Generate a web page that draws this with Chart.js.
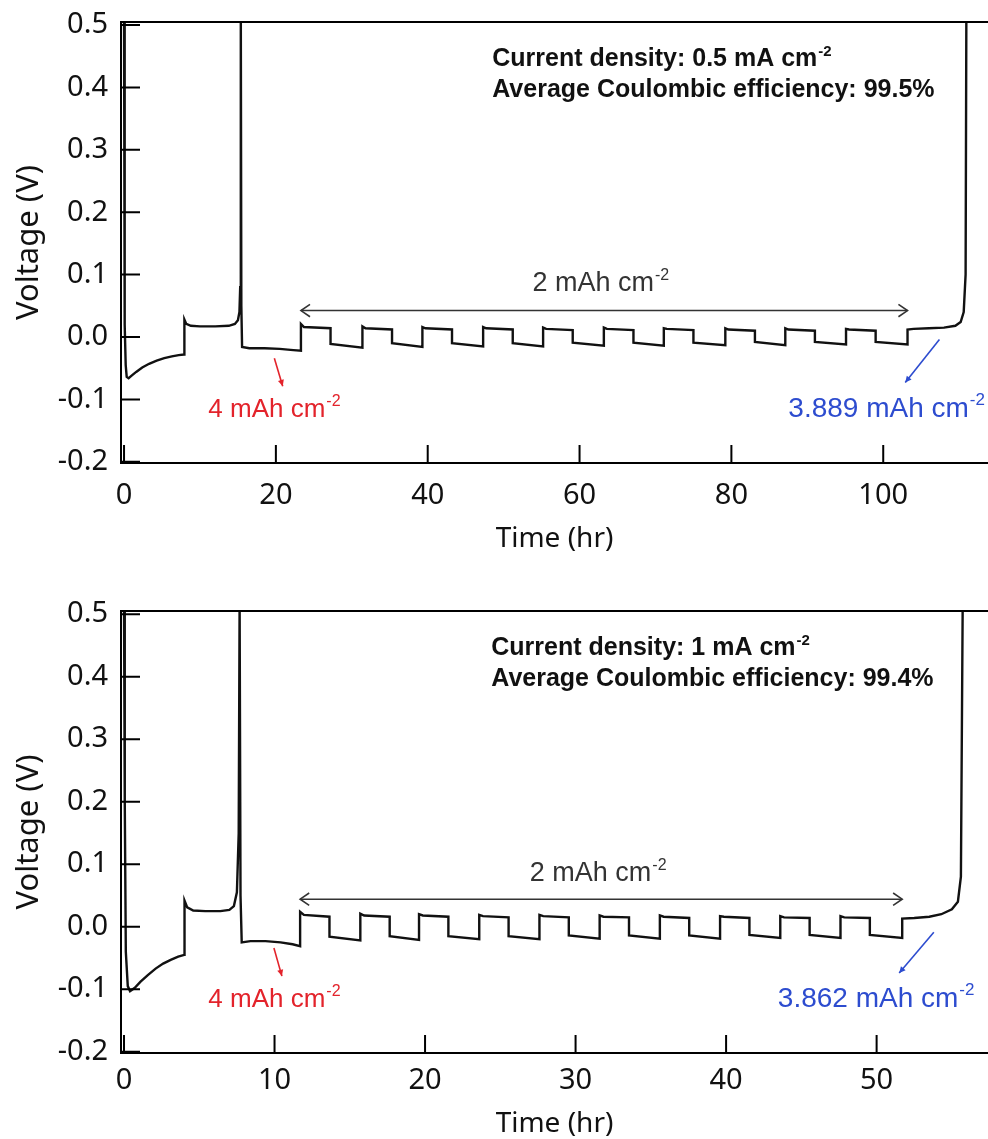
<!DOCTYPE html>
<html>
<head>
<meta charset="utf-8">
<script src="https://cdn.jsdelivr.net/npm/chart.js@4.4.1/dist/chart.umd.min.js"></script>
<style>
  html, body { margin: 0; padding: 0; background: #fff; }
  canvas { display: block; }
</style>
</head>
<body>
<canvas id="chartTop" width="988" height="569"></canvas>
<canvas id="chartBottom" width="988" height="570"></canvas>
<script>
// Voltage ticks shared by both panels
const voltageTicks = [-0.2, -0.1, 0.0, 0.1, 0.2, 0.3, 0.4, 0.5];
const topTimeTicks = [0, 20, 40, 60, 80, 100];
const bottomTimeTicks = [0, 10, 20, 30, 40, 50];

// 0.5 mA cm-2 run
const topTime = [
  0, 0.05, 0.12, 0.22, 0.35, 0.6, 1.0, 1.6, 2.4, 3.3, 4.3, 5.3, 6.3, 7.2, 7.9,
  7.95, 8.2, 8.8, 10, 12, 13.8, 14.6, 15.0, 15.2, 15.3, 15.38, 15.45, 15.55,
  16.5, 18.5, 20.5, 22.3, 23.3,
  23.3, 23.7, 27.2, 27.2, 31.4,
  31.4, 31.8, 35.3, 35.3, 39.3,
  39.3, 39.7, 43.2, 43.2, 47.3,
  47.3, 47.7, 51.2, 51.2, 55.2,
  55.2, 55.6, 59.1, 59.1, 63.2,
  63.2, 63.6, 67.1, 67.1, 71.1,
  71.1, 71.5, 75.0, 75.0, 79.2,
  79.2, 79.6, 83.1, 83.1, 87.1,
  87.1, 87.5, 91.0, 91.0, 95.1,
  95.1, 95.5, 99.0, 99.0, 103.2,
  103.2, 104, 106, 108, 109.5, 110.2, 110.6, 110.85, 110.95
];
const topVoltage = [
  0.52, 0.25, 0.02, -0.045, -0.064, -0.066, -0.062, -0.056, -0.049, -0.043, -0.038, -0.034, -0.031, -0.029, -0.028,
  0.028, 0.021, 0.018, 0.017, 0.017, 0.018, 0.021, 0.027, 0.04, 0.08, 0.52, 0.05, -0.016,
  -0.018, -0.018, -0.019, -0.021, -0.022,
  0.021, 0.016, 0.014, -0.011, -0.017,
  0.017, 0.014, 0.012, -0.010, -0.016,
  0.016, 0.014, 0.012, -0.010, -0.015,
  0.016, 0.014, 0.012, -0.010, -0.015,
  0.015, 0.013, 0.011, -0.009, -0.014,
  0.015, 0.013, 0.011, -0.009, -0.014,
  0.014, 0.013, 0.011, -0.009, -0.013,
  0.014, 0.012, 0.010, -0.008, -0.013,
  0.014, 0.012, 0.010, -0.008, -0.012,
  0.013, 0.012, 0.010, -0.008, -0.012,
  0.012, 0.013, 0.014, 0.015, 0.018, 0.024, 0.04, 0.10, 0.52
];

// 1 mA cm-2 run
const bottomTime = [
  0, 0.05, 0.12, 0.25, 0.4, 0.7, 1.1, 1.6, 2.1, 2.6, 3.1, 3.6, 4.0,
  4.02, 4.2, 4.6, 5.4, 6.4, 7.0, 7.3, 7.5, 7.62, 7.68, 7.74, 7.82,
  8.4, 9.4, 10.4, 11.2, 11.7,
  11.7, 11.95, 13.65, 13.65, 15.7,
  15.7, 15.95, 17.65, 17.65, 19.6,
  19.6, 19.85, 21.55, 21.55, 23.6,
  23.6, 23.85, 25.55, 25.55, 27.6,
  27.6, 27.85, 29.55, 29.55, 31.6,
  31.6, 31.85, 33.55, 33.55, 35.6,
  35.6, 35.85, 37.55, 37.55, 39.6,
  39.6, 39.85, 41.55, 41.55, 43.6,
  43.6, 43.85, 45.55, 45.55, 47.6,
  47.6, 47.85, 49.55, 49.55, 51.7,
  51.7, 52.5, 53.5, 54.3, 55.0, 55.4, 55.6, 55.72
];
const bottomVoltage = [
  0.52, 0.2, -0.04, -0.095, -0.103, -0.098, -0.088, -0.077, -0.067, -0.059, -0.053, -0.048, -0.045,
  0.042, 0.031, 0.026, 0.025, 0.025, 0.027, 0.033, 0.055, 0.15, 0.52, 0.05, -0.025,
  -0.023, -0.023, -0.025, -0.028, -0.031,
  0.024, 0.019, 0.016, -0.016, -0.022,
  0.021, 0.018, 0.016, -0.015, -0.021,
  0.020, 0.018, 0.016, -0.015, -0.020,
  0.019, 0.017, 0.015, -0.015, -0.020,
  0.019, 0.017, 0.015, -0.014, -0.019,
  0.018, 0.016, 0.015, -0.014, -0.019,
  0.018, 0.016, 0.014, -0.014, -0.019,
  0.017, 0.016, 0.014, -0.013, -0.018,
  0.017, 0.015, 0.014, -0.013, -0.018,
  0.017, 0.015, 0.014, -0.013, -0.018,
  0.013, 0.014, 0.016, 0.020, 0.028, 0.04, 0.08, 0.52
];

const RED = '#e3232b';
const BLUE = '#2d4ccf';
const GRAY = '#333';
const SANS = '"Liberation Sans", Arial, sans-serif';
const TICK_FONT = 'Noto Sans';

// text with a raised exponent, e.g. cm-2
function drawSup(ctx, x, y, text, sup, size, weight, align) {
  const base = `${weight} ${size}px ${SANS}`;
  const small = `${weight} ${Math.round(size * 0.6)}px ${SANS}`;
  ctx.font = base;
  const w1 = ctx.measureText(text).width;
  ctx.font = small;
  const w2 = sup ? ctx.measureText(sup).width + 1 : 0;
  let start = x;
  if (align === 'center') start = x - (w1 + w2) / 2;
  if (align === 'right') start = x - w1 - w2;
  ctx.textAlign = 'left';
  ctx.textBaseline = 'alphabetic';
  ctx.font = base;
  ctx.fillText(text, start, y);
  if (sup) {
    ctx.font = small;
    ctx.fillText(sup, start + w1 + 1, y - size * 0.42);
  }
}

function arrowHead(ctx, x1, y1, x2, y2, len, filled) {
  const a = Math.atan2(y2 - y1, x2 - x1);
  const spread = filled ? 0.45 : 0.6;
  ctx.beginPath();
  ctx.moveTo(x2 - len * Math.cos(a - spread), y2 - len * Math.sin(a - spread));
  ctx.lineTo(x2, y2);
  ctx.lineTo(x2 - len * Math.cos(a + spread), y2 - len * Math.sin(a + spread));
  if (filled) {
    ctx.closePath();
    ctx.fill();
  } else {
    ctx.stroke();
  }
}

// frame top line, inward ticks and the text notes
function notesPlugin(notes) {
  return {
    id: 'notes',
    afterDraw(chart) {
      const { ctx, chartArea: a, scales: { x, y } } = chart;
      const px = v => x.getPixelForValue(v);
      const py = v => y.getPixelForValue(v);
      ctx.save();

      ctx.strokeStyle = '#000';
      ctx.lineWidth = 2;
      ctx.beginPath();
      ctx.moveTo(a.left, a.top);
      ctx.lineTo(a.right, a.top);
      notes.xTicks.forEach(v => {
        ctx.moveTo(px(v), a.bottom);
        ctx.lineTo(px(v), a.bottom - 18);
      });
      voltageTicks.forEach(v => {
        ctx.moveTo(a.left, py(v));
        ctx.lineTo(a.left + 19, py(v));
      });
      ctx.stroke();

      // run conditions
      ctx.fillStyle = '#111';
      notes.header.forEach((line, i) => {
        drawSup(ctx, px(notes.headerAt[0]), py(notes.headerAt[1][i]), line[0], line[1], 25, 'bold', 'left');
      });

      // cycling span
      const s = notes.span;
      ctx.strokeStyle = GRAY;
      ctx.fillStyle = GRAY;
      ctx.lineWidth = 1.6;
      ctx.beginPath();
      ctx.moveTo(px(s.from), py(s.v));
      ctx.lineTo(px(s.to), py(s.v));
      ctx.stroke();
      arrowHead(ctx, px(s.to), py(s.v), px(s.from), py(s.v), 11, false);
      arrowHead(ctx, px(s.from), py(s.v), px(s.to), py(s.v), 11, false);
      drawSup(ctx, px(s.labelAt[0]), py(s.labelAt[1]), s.label[0], s.label[1], 27, 'normal', 'center');

      // deposited / stripped capacity
      [notes.red, notes.blue].forEach(n => {
        ctx.strokeStyle = n.color;
        ctx.fillStyle = n.color;
        ctx.lineWidth = 1.6;
        const x1 = px(n.from[0]), y1 = py(n.from[1]);
        const x2 = px(n.to[0]), y2 = py(n.to[1]);
        ctx.beginPath();
        ctx.moveTo(x1, y1);
        ctx.lineTo(x2, y2);
        ctx.stroke();
        arrowHead(ctx, x1, y1, x2, y2, 7, true);
        drawSup(ctx, px(n.at[0]), py(n.at[1]), n.label[0], n.label[1], n.size, 'normal', n.align);
      });

      ctx.restore();
    }
  };
}

function buildChart(id, cfg) {
  const points = cfg.time.map((t, i) => ({ x: t, y: cfg.voltage[i] }));
  return new Chart(document.getElementById(id), {
    type: 'scatter',
    data: {
      datasets: [{
        data: points,
        showLine: true,
        borderColor: '#111',
        borderWidth: 2.4,
        pointRadius: 0,
        tension: 0
      }]
    },
    options: {
      responsive: false,
      animation: false,
      layout: { padding: { top: cfg.padTop, right: 0, bottom: 0, left: 0 } },
      scales: {
        x: {
          type: 'linear',
          min: cfg.xMin,
          max: cfg.xMax,
          afterBuildTicks: scale => { scale.ticks = cfg.xTicks.map(v => ({ value: v })); },
          afterFit: scale => { scale.height = cfg.xAxisHeight; },
          grid: { drawOnChartArea: false, drawTicks: false },
          border: { color: '#000', width: 2 },
          ticks: {
            font: { family: TICK_FONT, size: 29 },
            color: '#111',
            padding: cfg.xTickPad,
            maxRotation: 0,
            autoSkip: false
          },
          title: {
            display: true,
            text: 'Time (hr)',
            font: { family: TICK_FONT, size: 28 },
            color: '#111',
            padding: { top: 0, bottom: cfg.xTitlePad }
          }
        },
        y: {
          min: -0.202,
          max: 0.505,
          afterBuildTicks: scale => { scale.ticks = voltageTicks.map(v => ({ value: v })); },
          afterFit: scale => {
            scale.width = 121;
            scale.paddingTop = 0;
            scale.paddingBottom = 0;
          },
          grid: { drawOnChartArea: false, drawTicks: false },
          border: { color: '#000', width: 2 },
          ticks: {
            font: { family: TICK_FONT, size: 29 },
            color: '#111',
            padding: 13,
            callback: v => v.toFixed(1)
          },
          title: {
            display: true,
            text: 'Voltage (V)',
            font: { family: TICK_FONT, size: 31 },
            color: '#111',
            padding: { top: 11, bottom: 0 }
          }
        }
      },
      plugins: {
        legend: { display: false },
        tooltip: { enabled: false }
      }
    },
    plugins: [notesPlugin(cfg.notes)]
  });
}

const chartTop = buildChart('chartTop', {
  time: topTime,
  voltage: topVoltage,
  xTicks: topTimeTicks,
  xMin: -0.4,
  xMax: 113.8,
  padTop: 22,
  xAxisHeight: 106,
  xTickPad: 15,
  xTitlePad: 13,
  notes: {
    xTicks: topTimeTicks,
    headerAt: [48.5, [0.434, 0.385]],
    header: [['Current density: 0.5 mA cm', '-2'], ['Average Coulombic efficiency: 99.5%', '']],
    span: { from: 23.3, to: 103.2, v: 0.0424, label: ['2 mAh cm', '-2'], labelAt: [62.8, 0.073] },
    red: { from: [19.8, -0.034], to: [20.9, -0.079], label: ['4 mAh cm', '-2'], at: [11.1, -0.128], align: 'left', size: 26, color: RED },
    blue: { from: [107.4, -0.004], to: [102.9, -0.073], label: ['3.889 mAh cm', '-2'], at: [113.4, -0.128], align: 'right', size: 28, color: BLUE }
  }
});

const chartBottom = buildChart('chartBottom', {
  time: bottomTime,
  voltage: bottomVoltage,
  xTicks: bottomTimeTicks,
  xMin: -0.2,
  xMax: 57.4,
  padTop: 42,
  xAxisHeight: 86,
  xTickPad: 10,
  xTitlePad: -2,
  notes: {
    xTicks: bottomTimeTicks,
    headerAt: [24.4, [0.434, 0.385]],
    header: [['Current density: 1 mA cm', '-2'], ['Average Coulombic efficiency: 99.4%', '']],
    span: { from: 11.7, to: 51.7, v: 0.044, label: ['2 mAh cm', '-2'], labelAt: [31.5, 0.073] },
    red: { from: [9.96, -0.034], to: [10.49, -0.079], label: ['4 mAh cm', '-2'], at: [5.6, -0.128], align: 'left', size: 26, color: RED },
    blue: { from: [53.8, -0.009], to: [51.5, -0.074], label: ['3.862 mAh cm', '-2'], at: [56.5, -0.128], align: 'right', size: 28, color: BLUE }
  }
});
</script>
</body>
</html>
